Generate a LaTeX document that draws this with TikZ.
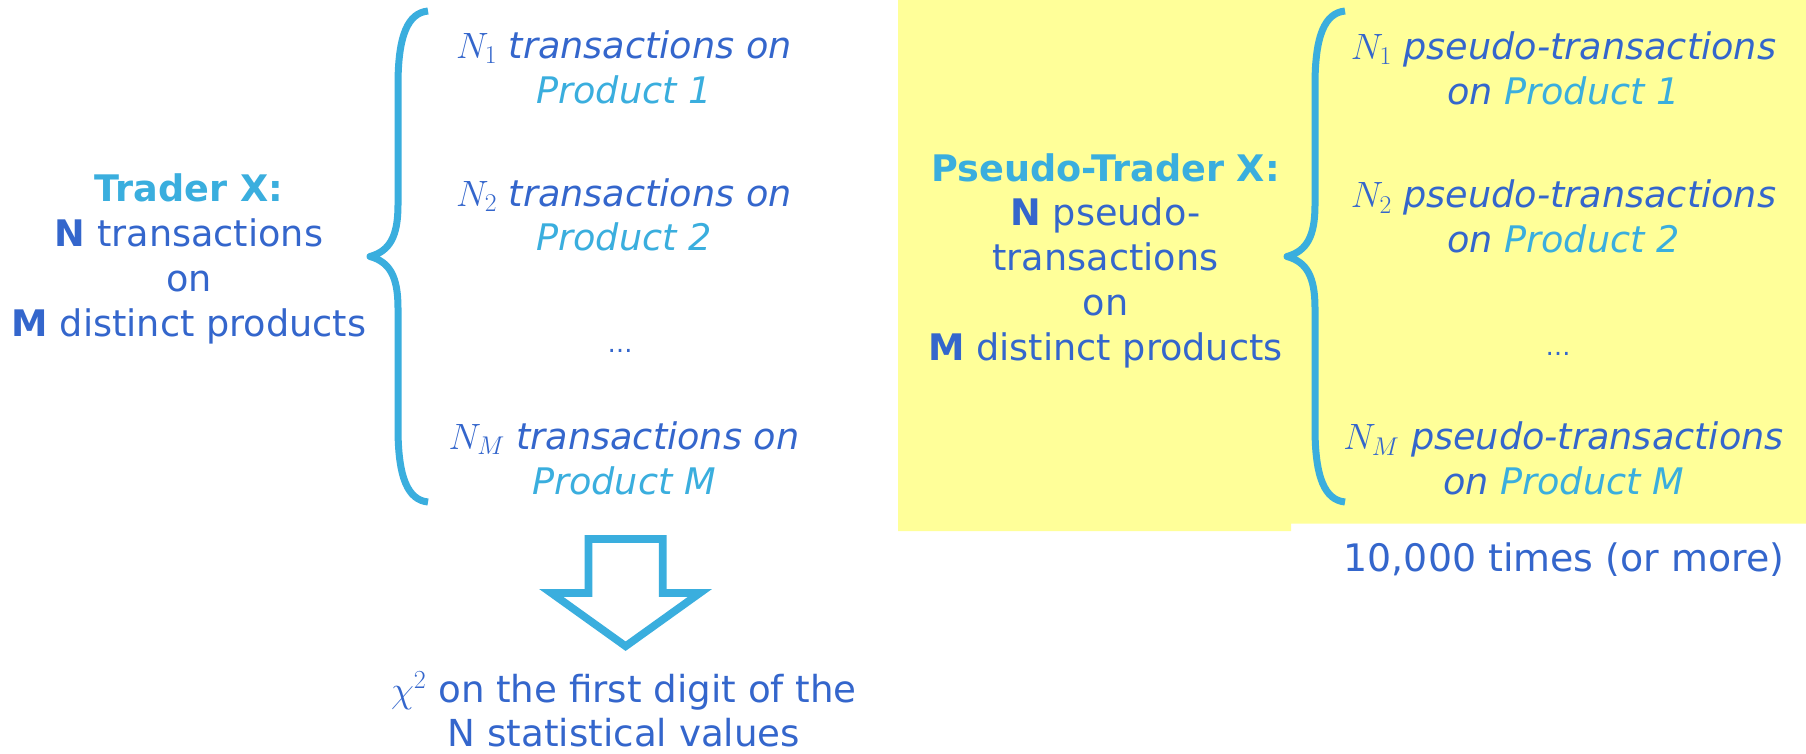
\RequirePackage{fix-cm}
\documentclass[tikz,border=0pt]{standalone}
\usepackage{fontspec}
\setmainfont{DejaVu Sans}
\definecolor{ink}{RGB}{52,102,204}
\definecolor{sky}{RGB}{58,174,222}
\definecolor{pad}{RGB}{255,255,153}
\tikzset{
  txt/.style={font=\fontsize{36.6}{44.7}\selectfont, text=ink, align=center, inner sep=0pt, anchor=base},
  bigtxt/.style={txt, font=\fontsize{37.2}{44}\selectfont},
  dotstxt/.style={txt, font=\fontsize{25}{30}\selectfont},
  bracestroke/.style={draw=sky, line width=7pt, line join=round},
  blockarrow/.style={draw=sky, line width=7.7pt, line join=miter, fill=white},
}
\begin{document}
\begin{tikzpicture}[x=1pt,y=-1pt]
  % canvas
  \fill[white] (0,0) rectangle (1806,753);
  \useasboundingbox (0,0) rectangle (1806,753);
  % highlighted pseudo-trader panel
  \fill[pad] (898,0) -- (1806,0) -- (1806,523.5) -- (1291,523.5) -- (1291,531) -- (898,531) -- cycle;

  % curly braces
  \foreach \dx in {0,917}{
    \draw[bracestroke, xshift=\dx] (428,11) .. controls (408,13) and (398,35) .. (398,85)
      -- (398,205) .. controls (398,236) and (390,251) .. (370,256.5)
      .. controls (390,262) and (398,277) .. (398,308)
      -- (398,428) .. controls (398,478) and (408,500) .. (428,502);
  }

  % real trader (multi-line nodes sit on the baseline of their last line)
  \node[txt] (trader) at (189,336)
    {\textbf{\textcolor{sky}{Trader X:}}\\\textbf{N} transactions\\on\\\textbf{M} distinct products};
  \node[txt] (t1) at (624,103) {$N_1$ \textit{transactions on}\\\textit{\textcolor{sky}{Product 1}}};
  \node[txt] (t2) at (624,250.7) {$N_2$ \textit{transactions on}\\\textit{\textcolor{sky}{Product 2}}};
  \node[dotstxt] (tdots) at (620,352.7) {…};
  \node[txt] (tm) at (624,494) {$N_M$ \textit{transactions on}\\\textit{\textcolor{sky}{Product M}}};

  % pseudo trader
  \node[txt] (pseudo) at (1105.5,360)
    {\textbf{\textcolor{sky}{Pseudo-Trader X:}}\\\textbf{N} pseudo-\\transactions\\on\\\textbf{M} distinct products};
  \node[txt] (p1) at (1563.5,104) {$N_1$ \textit{pseudo-transactions}\\\textit{on \textcolor{sky}{Product 1}}};
  \node[txt] (p2) at (1563.5,252.6) {$N_2$ \textit{pseudo-transactions}\\\textit{on \textcolor{sky}{Product 2}}};
  \node[dotstxt] (pdots) at (1558,355) {…};
  \node[txt] (pm) at (1563.5,494.5) {$N_M$ \textit{pseudo-transactions}\\\textit{on \textcolor{sky}{Product M}}};
  \node[bigtxt, font=\fontsize{37.9}{44}\selectfont] (reps) at (1564,571.5) {10,000 times (or more)};

  % hollow block arrow down to the test
  \draw[blockarrow] (588.5,538.9) -- (662.7,538.9) -- (662.7,592.9) -- (700,592.9)
    -- (625.6,646.2) -- (551.2,592.9) -- (588.5,592.9) -- cycle;
  \node[bigtxt] (chi) at (624,746) {$\chi^2$ on the first digit of the\\N statistical values};
\end{tikzpicture}
\end{document}
